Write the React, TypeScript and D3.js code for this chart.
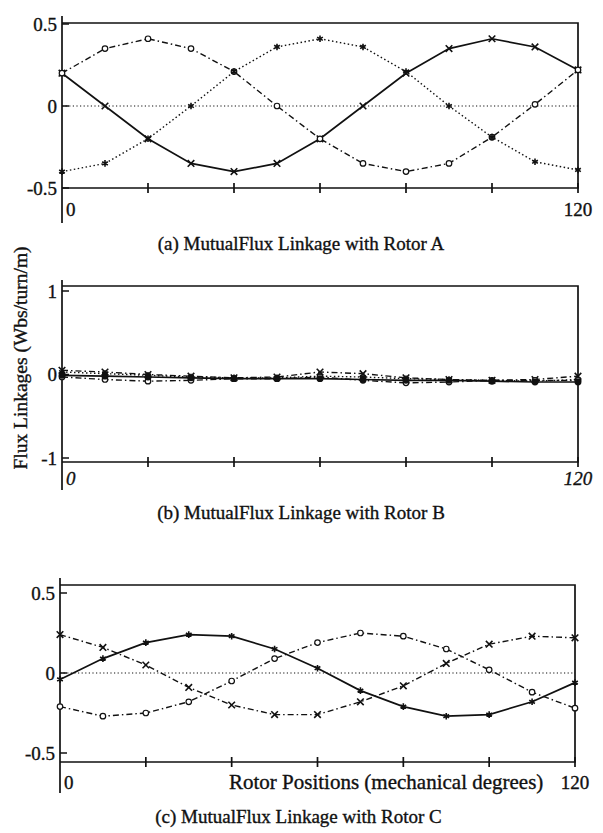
import React, { useEffect, useRef } from "react";
import * as d3 from "d3";

// rotor position (mechanical degrees)
const angles = [0, 10, 20, 30, 40, 50, 60, 70, 80, 90, 100, 110, 120];
const xTicks = [0, 20, 40, 60, 80, 100, 120];

// (a) rotor A
const rotorA_solid = [0.2, 0, -0.2, -0.35, -0.4, -0.35, -0.2, 0, 0.2, 0.35, 0.41, 0.36, 0.22];
const rotorA_circle = [0.2, 0.35, 0.41, 0.35, 0.21, 0, -0.2, -0.35, -0.4, -0.35, -0.19, 0.01, 0.22];
const rotorA_star = [-0.4, -0.35, -0.2, 0, 0.21, 0.36, 0.41, 0.36, 0.21, 0, -0.19, -0.34, -0.39];

// (b) rotor B
const rotorB_solid = [-0.01, -0.02, -0.03, -0.04, -0.05, -0.05, -0.05, -0.06, -0.07, -0.07, -0.08, -0.09, -0.09];
const rotorB_circle = [-0.03, -0.06, -0.08, -0.07, -0.05, -0.05, -0.03, -0.07, -0.1, -0.09, -0.07, -0.07, -0.07];
const rotorB_cross = [0.05, 0.03, 0, -0.02, -0.04, -0.03, 0.03, 0.01, -0.04, -0.06, -0.07, -0.06, -0.02];
const rotorB_dotted = [0.03, 0.01, -0.01, -0.03, -0.04, -0.04, -0.02, -0.03, -0.05, -0.06, -0.07, -0.08, -0.06];

// (c) rotor C
const rotorC_solid = [-0.04, 0.09, 0.19, 0.24, 0.23, 0.15, 0.03, -0.11, -0.21, -0.27, -0.26, -0.18, -0.06];
const rotorC_circle = [-0.21, -0.27, -0.25, -0.18, -0.05, 0.09, 0.19, 0.25, 0.23, 0.15, 0.02, -0.12, -0.22];
const rotorC_cross = [0.24, 0.16, 0.05, -0.09, -0.2, -0.26, -0.26, -0.18, -0.08, 0.06, 0.18, 0.23, 0.22];

const FONT = "'Liberation Serif', 'Times New Roman', serif";
const INK = "#111";

const DASH = { solid: null, dashdot: "6,3,1.5,3", dotted: "1.5,2.5" };

type Series = { values: number[]; dash: string | null; marker: "x" | "o" | "star" | "dot" };

type Panel = {
  x0: number;
  x1: number;
  yHi: number; // pixel of tick value hi
  yLo: number; // pixel of tick value lo
  hi: number;
  lo: number;
  frameTop: number;
  frameBot: number;
  axisTop: number;
  axisBot: number;
  yTicks: string[];
  yTickVals: number[];
  zeroLine: boolean;
  italic: boolean;
  labelY: number;
  caption: string;
  captionY: number;
  series: Series[];
};

const panels: Panel[] = [
  {
    x0: 62, x1: 578, yHi: 24, yLo: 188, hi: 0.5, lo: -0.5,
    frameTop: 23, frameBot: 188, axisTop: 16, axisBot: 223,
    yTicks: ["0.5", "0", "-0.5"], yTickVals: [0.5, 0, -0.5],
    zeroLine: true, italic: false, labelY: 216,
    caption: "(a) MutualFlux Linkage with Rotor A", captionY: 250,
    series: [
      { values: rotorA_solid, dash: DASH.solid, marker: "x" },
      { values: rotorA_circle, dash: DASH.dashdot, marker: "o" },
      { values: rotorA_star, dash: DASH.dotted, marker: "star" },
    ],
  },
  {
    x0: 62, x1: 578, yHi: 291, yLo: 458, hi: 1, lo: -1,
    frameTop: 286, frameBot: 462, axisTop: 280, axisBot: 490,
    yTicks: ["1", "0", "-1"], yTickVals: [1, 0, -1],
    zeroLine: false, italic: true, labelY: 485,
    caption: "(b) MutualFlux Linkage with Rotor B", captionY: 519,
    series: [
      { values: rotorB_dotted, dash: DASH.dotted, marker: "star" },
      { values: rotorB_cross, dash: DASH.dashdot, marker: "x" },
      { values: rotorB_circle, dash: DASH.dashdot, marker: "o" },
      { values: rotorB_solid, dash: DASH.solid, marker: "dot" },
    ],
  },
  {
    x0: 60, x1: 575, yHi: 593, yLo: 753, hi: 0.5, lo: -0.5,
    frameTop: 585, frameBot: 762, axisTop: 578, axisBot: 793,
    yTicks: ["0.5", "0", "-0.5"], yTickVals: [0.5, 0, -0.5],
    zeroLine: true, italic: false, labelY: 789,
    caption: "(c) MutualFlux Linkage with Rotor C", captionY: 823,
    series: [
      { values: rotorC_circle, dash: DASH.dashdot, marker: "o" },
      { values: rotorC_cross, dash: DASH.dashdot, marker: "x" },
      { values: rotorC_solid, dash: DASH.solid, marker: "star" },
    ],
  },
];

export default function App() {
  const ref = useRef<SVGSVGElement>(null);

  useEffect(() => {
    const svg = d3.select(ref.current);
    svg.selectAll("*").remove();

    // scanned print looks heavier than a plain serif
    const addText = (sel: any, size: number) =>
      sel
        .append("text")
        .attr("font-family", FONT)
        .attr("font-size", size)
        .attr("fill", INK)
        .attr("stroke", INK)
        .attr("stroke-width", 0.35);

    panels.forEach((p, pi) => {
      const g = svg.append("g");
      const x = d3.scaleLinear().domain([0, 120]).range([p.x0, p.x1]);
      const y = d3.scaleLinear().domain([p.lo, p.hi]).range([p.yLo, p.yHi]);

      // frame
      g.append("path")
        .attr("d", `M${p.x0},${p.frameTop}H${p.x1}V${p.frameBot}H${p.x0}`)
        .attr("fill", "none")
        .attr("stroke", INK)
        .attr("stroke-width", 1.7);
      g.append("line")
        .attr("x1", p.x0).attr("x2", p.x0)
        .attr("y1", p.axisTop).attr("y2", p.axisBot)
        .attr("stroke", INK)
        .attr("stroke-width", 1.7);

      // y ticks + labels
      p.yTickVals.forEach((v, i) => {
        g.append("line")
          .attr("x1", p.x0).attr("x2", p.x0 + 7)
          .attr("y1", y(v)).attr("y2", y(v))
          .attr("stroke", INK).attr("stroke-width", 1.5);
        addText(g, 19)
          .attr("x", p.x0 - 5)
          .attr("y", y(v))
          .attr("dy", "0.35em")
          .attr("text-anchor", "end")
          .text(p.yTicks[i]);
      });

      // x ticks as "+"
      xTicks.slice(1).forEach((t) => {
        g.append("line")
          .attr("x1", x(t)).attr("x2", x(t))
          .attr("y1", p.frameBot - 5).attr("y2", p.frameBot + 5)
          .attr("stroke", INK).attr("stroke-width", 1.7);
      });

      // x labels
      addText(g, 19)
        .attr("x", p.x0 + 4).attr("y", p.labelY)
        .attr("font-style", p.italic ? "italic" : "normal")
        .text("0");
      addText(g, 19)
        .attr("x", x(120)).attr("y", p.labelY)
        .attr("text-anchor", "middle")
        .attr("font-style", p.italic ? "italic" : "normal")
        .text("120");

      if (pi === 2) {
        addText(g, 21)
          .attr("x", 229).attr("y", p.labelY)
          .text("Rotor Positions (mechanical degrees)");
      }

      // zero reference
      if (p.zeroLine) {
        g.append("line")
          .attr("x1", p.x0).attr("x2", p.x1)
          .attr("y1", y(0)).attr("y2", y(0))
          .attr("stroke", INK).attr("stroke-width", 1.1)
          .attr("stroke-dasharray", "1.2,2.4");
      }

      // series
      const line = d3
        .line<number>()
        .x((_, i) => x(angles[i]))
        .y((d) => y(d));

      p.series.forEach((s) => {
        g.append("path")
          .datum(s.values)
          .attr("d", line)
          .attr("fill", "none")
          .attr("stroke", INK)
          .attr("stroke-width", s.dash ? 1.4 : 1.7)
          .attr("stroke-dasharray", s.dash);

        const sym = d3
          .symbol()
          .type(
            s.marker === "x"
              ? d3.symbolTimes
              : s.marker === "star"
              ? d3.symbolAsterisk
              : d3.symbolCircle
          )
          .size(s.marker === "o" ? 24 : s.marker === "dot" ? 22 : 30);

        g.selectAll(null)
          .data(s.values)
          .join("path")
          .attr("transform", (d, i) => `translate(${x(angles[i])},${y(d)})`)
          .attr("d", sym)
          .attr("fill", s.marker === "dot" ? INK : s.marker === "o" ? "#fff" : "none")
          .attr("stroke", INK)
          .attr("stroke-width", s.marker === "o" ? 1.2 : 1.6);
      });

      // caption
      addText(g, 19)
        .attr("x", (p.x0 + p.x1) / 2 - 19)
        .attr("y", p.captionY)
        .attr("text-anchor", "middle")
        .text(p.caption);
    });

    // shared y label
    addText(svg, 19.5)
      .attr("transform", "translate(27,358) rotate(-90)")
      .attr("text-anchor", "middle")
      .text("Flux Linkages (Wbs/turn/m)");
  }, []);

  return (
    <svg
      ref={ref}
      width={603}
      height={833}
      style={{ position: "absolute", left: 0, top: 0, background: "#fff" }}
    />
  );
}
